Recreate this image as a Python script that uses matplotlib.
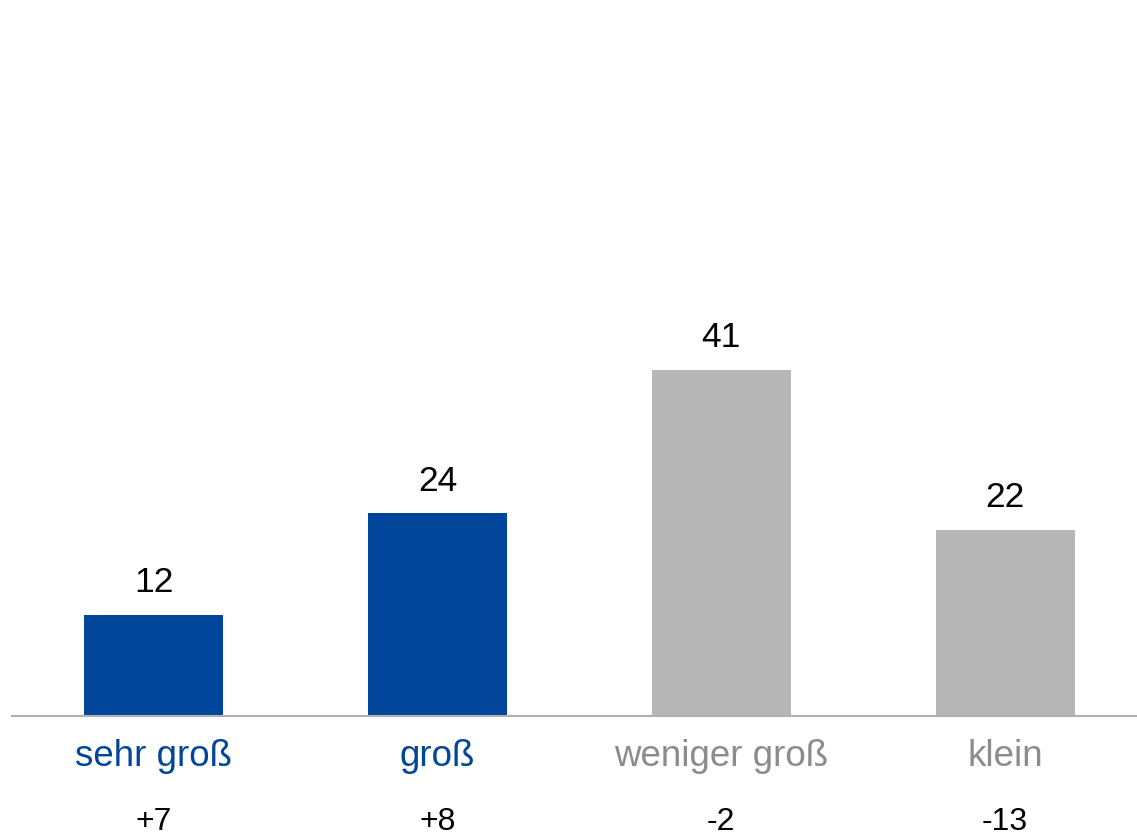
import matplotlib
matplotlib.use("Agg")
import matplotlib.pyplot as plt

categories = ["sehr groß", "groß", "weniger groß", "klein"]
values = [12, 24, 41, 22]
changes = ["+7", "+8", "-2", "-13"]

blue = "#02469B"
gray_bar = "#B7B7B7"
gray_txt = "#8C8C8C"
bar_colors = [blue, blue, gray_bar, gray_bar]
label_colors = [blue, blue, gray_txt, gray_txt]

plt.rcParams['font.family'] = ['Liberation Sans', 'DejaVu Sans']

W, H = 1137, 837
fig = plt.figure(figsize=(W / 100, H / 100), dpi=100)
base_px = 717
ax = fig.add_axes([12 / W, (H - base_px) / H, 1 - 12 / W, base_px / H])

x = list(range(len(categories)))
ax.bar(x, values, width=0.49, color=bar_colors)
ax.set_xlim(-0.5, 3.465)
ax.set_ylim(0, base_px / 8.45)

for xi, v in zip(x, values):
    ax.annotate(str(v), (xi, v), xytext=(0, 12), textcoords="offset points",
                ha="center", va="bottom", fontsize=25.5, color="black")

for xi, lab, c, ch in zip(x, categories, label_colors, changes):
    ax.annotate(lab, (xi, 0), xytext=(0, -28.5), textcoords="offset points",
                ha="center", va="center", fontsize=26.5, color=c)
    ax.annotate(ch, (xi, 0), xytext=(0, -75.5), textcoords="offset points",
                ha="center", va="center", fontsize=23, color="black",
                annotation_clip=False)

for s in ["top", "right", "left"]:
    ax.spines[s].set_visible(False)
ax.spines["bottom"].set_color("#B0B0B0")
ax.spines["bottom"].set_linewidth(1.5)
ax.set_xticks([])
ax.set_yticks([])

fig.savefig("out.png", dpi=100)
